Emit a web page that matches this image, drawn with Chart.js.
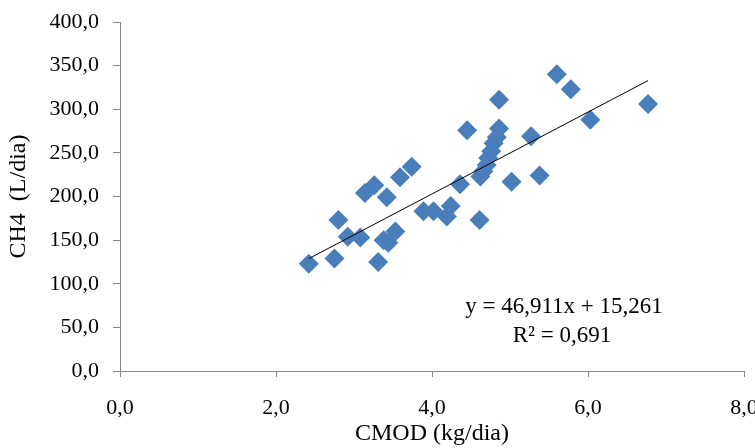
<!DOCTYPE html>
<html>
<head>
<meta charset="utf-8">
<script src="https://cdn.jsdelivr.net/npm/chart.js@4.4.1/dist/chart.umd.min.js"></script>
<style>
  html, body { margin: 0; padding: 0; background: #fff; }
  #wrap { width: 755px; height: 448px; position: relative; }
</style>
</head>
<body>
<div id="wrap"><canvas id="scatterChart"></canvas></div>
<script>
// CMOD (kg/dia) vs CH4 (L/dia)
const cmod = [2.42, 2.75, 2.80, 2.92, 3.08, 3.14, 3.26, 3.31, 3.38, 3.42, 3.44, 3.53, 3.59, 3.74,
  3.89, 4.02, 4.19, 4.24, 4.36, 4.45, 4.61, 4.62, 4.66, 4.70, 4.72, 4.76, 4.79, 4.83, 4.86, 4.86,
  5.02, 5.27, 5.38, 5.60, 5.78, 6.03, 6.77];
const ch4 = [123, 129, 173, 154, 153, 204, 213, 125, 150, 199, 147, 160, 222, 234,
  183, 183, 177, 189, 214, 276, 173, 223, 229, 236, 244, 252, 261, 268, 278, 311,
  217, 269, 224, 340, 323, 288, 306];

const slope = 46.911;
const intercept = 15.261;
const rSquared = 0.691;

const xTicks = [0, 2, 4, 6, 8];
const yTicks = [0, 50, 100, 150, 200, 250, 300, 350, 400];

const fmt = v => v.toFixed(1).replace('.', ',');
const fmt3 = v => v.toFixed(3).replace('.', ',');

const xMin = Math.min(...cmod);
const xMax = Math.max(...cmod);
const trend = [
  { x: xMin, y: slope * xMin + intercept },
  { x: xMax, y: slope * xMax + intercept }
];

const points = cmod.map((x, i) => ({ x: x, y: ch4[i] }));

const serif = '"Liberation Serif", "Times New Roman", serif';
const axisGray = '#868686';

// equation + R² drawn over the plot
const equationLabel = {
  id: 'equationLabel',
  afterDatasetsDraw(chart) {
    const c = chart.ctx;
    c.save();
    c.fillStyle = '#000';
    c.font = '23px ' + serif;
    c.textAlign = 'center';
    c.textBaseline = 'middle';
    c.fillText('y = ' + fmt3(slope) + 'x + ' + fmt3(intercept), 564, 307);
    c.fillText('R² = ' + fmt3(rSquared), 562, 336);
    c.restore();
  }
};

const ctx = document.getElementById('scatterChart').getContext('2d');
new Chart(ctx, {
  type: 'scatter',
  data: {
    datasets: [
      {
        label: 'Linear',
        type: 'line',
        data: trend,
        borderColor: '#000',
        borderWidth: 1,
        pointRadius: 0,
        fill: false,
        order: 0
      },
      {
        label: 'CH4',
        data: points,
        pointStyle: 'rectRot',
        pointRadius: 10,
        pointHoverRadius: 10,
        backgroundColor: '#4A7EBB',
        borderColor: '#4A7EBB',
        borderWidth: 0,
        order: 1
      }
    ]
  },
  options: {
    responsive: true,
    maintainAspectRatio: false,
    animation: false,
    layout: { padding: { top: 22, right: 11, left: 0, bottom: 0 } },
    plugins: {
      legend: { display: false },
      tooltip: { enabled: false }
    },
    scales: {
      x: {
        type: 'linear',
        min: 0,
        max: 8,
        afterBuildTicks: axis => { axis.ticks = xTicks.map(v => ({ value: v })); },
        afterFit: axis => {
          axis.height = 77;
          axis.paddingLeft = 0;
          axis.paddingRight = 0;
        },
        border: { color: axisGray, width: 1 },
        grid: { drawOnChartArea: false, color: axisGray, tickLength: 6 },
        ticks: {
          color: '#000',
          font: { family: serif, size: 22 },
          padding: 18,
          maxRotation: 0,
          callback: v => fmt(v)
        },
        title: {
          display: true,
          text: 'CMOD (kg/dia)',
          color: '#000',
          font: { family: serif, size: 24 },
          padding: { top: 4, bottom: 0 }
        }
      },
      y: {
        type: 'linear',
        min: 0,
        max: 400,
        afterBuildTicks: axis => { axis.ticks = yTicks.map(v => ({ value: v })); },
        afterFit: axis => {
          axis.width = 120;
          axis.paddingTop = 0;
          axis.paddingBottom = 0;
        },
        border: { color: axisGray, width: 1 },
        grid: { drawOnChartArea: false, color: axisGray, tickLength: 7 },
        ticks: {
          color: '#000',
          font: { family: serif, size: 22 },
          padding: 14,
          callback: v => fmt(v)
        },
        title: {
          display: true,
          text: 'CH4  (L/dia)',
          color: '#000',
          font: { family: serif, size: 24 },
          padding: { top: 4, bottom: 0 }
        }
      }
    }
  },
  plugins: [equationLabel]
});
</script>
</body>
</html>
